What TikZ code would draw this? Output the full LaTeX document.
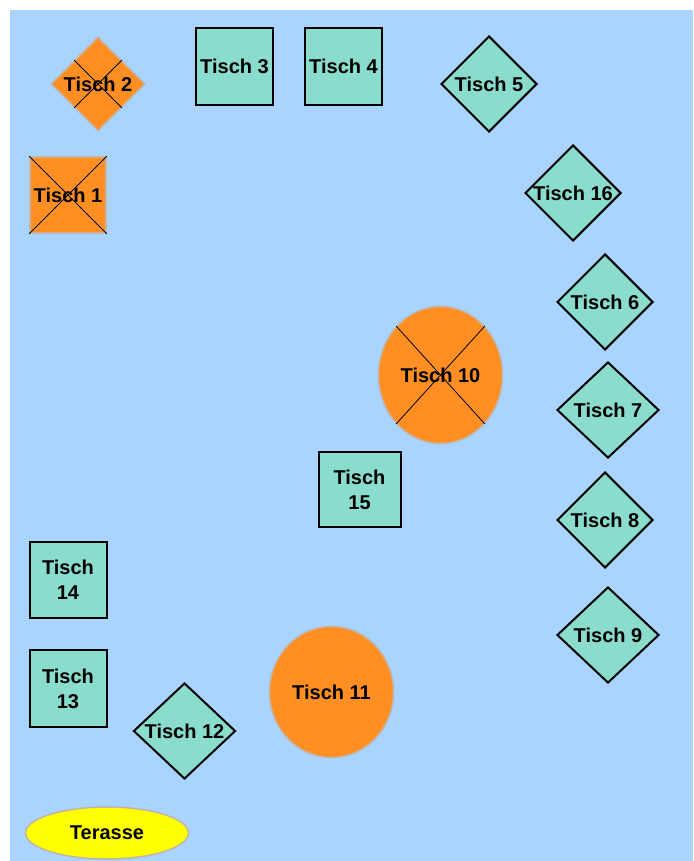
\documentclass[tikz,border=0pt]{standalone}
\usepackage{fontspec}
\setmainfont{Liberation Sans}
\usetikzlibrary{shapes.geometric}
\definecolor{Raum}{HTML}{A9D4FF}
\definecolor{Frei}{HTML}{8ADDCC}
\definecolor{Belegt}{HTML}{FF8F22}
\definecolor{Rand}{HTML}{C4B4A8}
\definecolor{Sonne}{HTML}{FFFF00}
\tikzset{
  tischbase/.style={inner sep=0pt,align=center,text=black,
    font=\fontsize{20}{25}\selectfont\bfseries},
  quadrat/.style={tischbase,rectangle,draw=black,line width=2pt,fill=Frei,minimum size=77pt},
  raute/.style={tischbase,diamond,draw=black,line width=2pt,fill=Frei,minimum width=96pt,minimum height=96pt},
  belegt/.style={fill=Belegt,draw=Rand,line width=1.5pt},
  rund/.style={tischbase,ellipse,belegt},
  kreuz/.style={line width=0.8pt,draw=black},
}
\begin{document}
\begin{tikzpicture}[x=1pt,y=-1pt]
    \useasboundingbox (0,0) rectangle (693,861);
    \fill[white] (0,0) rectangle (693,861);
    \fill[Raum] (10,10) rectangle (693,861);

    \node[quadrat,belegt,minimum size=76pt] (tisch1) at (68,195) {Tisch 1};
    \node[raute,belegt,minimum width=94pt,minimum height=94pt] (tisch2) at (98,84) {\makebox[0pt]{Tisch 2}};
    \node[quadrat] (tisch3) at (234.5,66.5) {Tisch 3};
    \node[quadrat] (tisch4) at (343.5,66.5) {Tisch 4};
    \node[raute] (tisch5) at (489,84) {\makebox[0pt]{Tisch 5}};
    \node[raute] (tisch16) at (573,193) {\makebox[0pt]{Tisch 16}};
    \node[raute] (tisch6) at (605,302) {\makebox[0pt]{Tisch 6}};
    \node[raute,minimum width=102pt] (tisch7) at (608,410) {\makebox[0pt]{Tisch 7}};
    \node[raute] (tisch8) at (605,520) {\makebox[0pt]{Tisch 8}};
    \node[raute,minimum width=102pt] (tisch9) at (608,635) {\makebox[0pt]{Tisch 9}};
    \node[rund,minimum width=124pt,minimum height=137pt] (tisch10) at (440.5,375) {Tisch 10};
    \node[rund,minimum width=124pt,minimum height=131pt] (tisch11) at (331.5,692) {Tisch 11};
    \node[raute,minimum width=102pt] (tisch12) at (184.5,731) {\makebox[0pt]{Tisch 12}};
    \node[quadrat] (tisch13) at (68,688.5) {Tisch\\13};
    \node[quadrat,minimum height=76pt] (tisch14) at (68,579.5) {Tisch\\14};
    \node[quadrat,minimum width=82pt,minimum height=75pt] (tisch15) at (359.5,489.5) {Tisch\\15};
    \node[tischbase,ellipse,fill=Sonne,draw=Rand,line width=1.5pt,minimum width=163pt,minimum height=52pt] (terasse) at (107,833) {Terasse};

    \draw[kreuz] (tisch1.north west) -- (tisch1.south east);
    \draw[kreuz] (tisch1.north east) -- (tisch1.south west);
    \draw[kreuz] (tisch2.north west) -- (tisch2.south east);
    \draw[kreuz] (tisch2.north east) -- (tisch2.south west);
    \draw[kreuz] (tisch10.north west) -- (tisch10.south east);
    \draw[kreuz] (tisch10.north east) -- (tisch10.south west);
\end{tikzpicture}
\end{document}
